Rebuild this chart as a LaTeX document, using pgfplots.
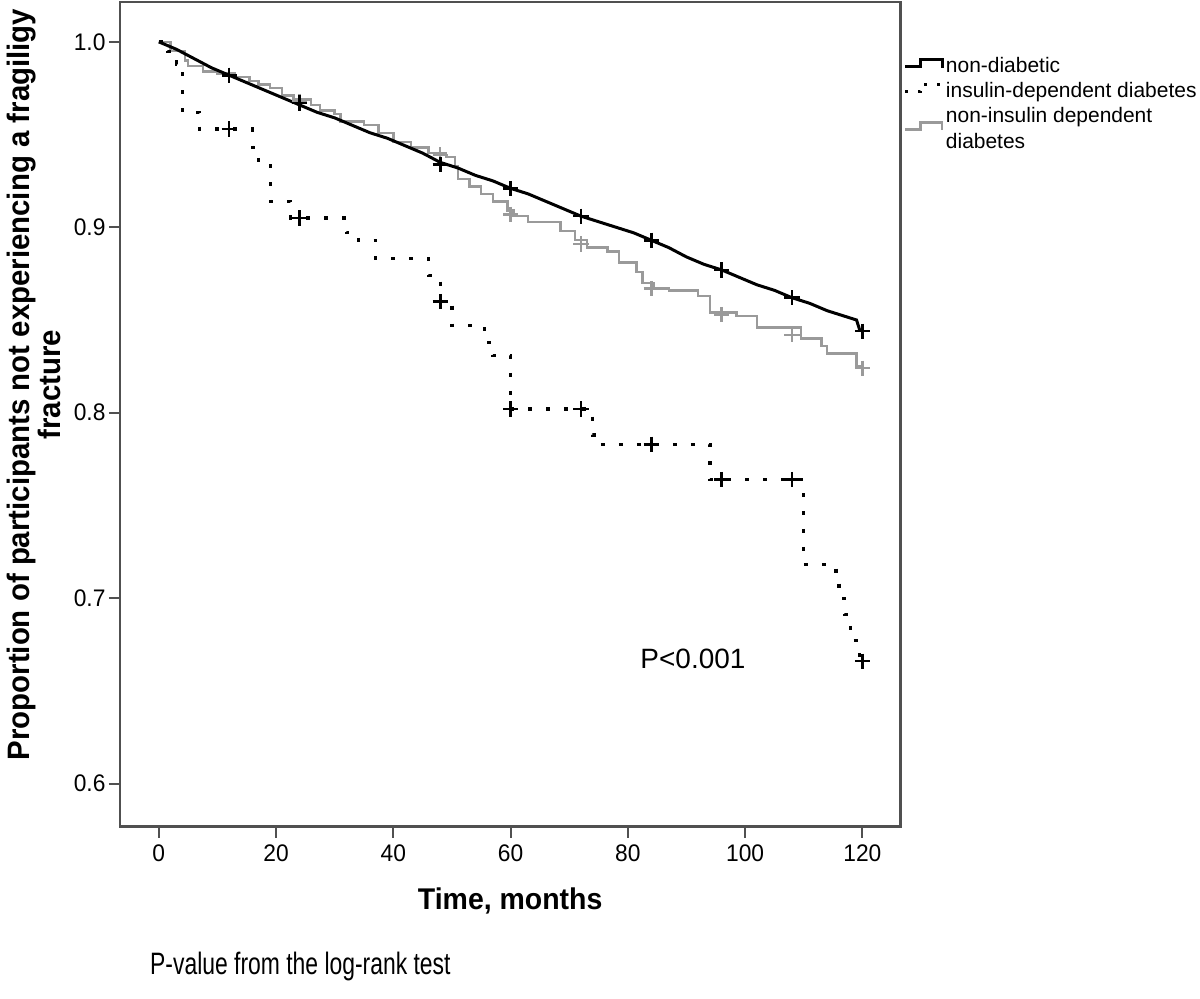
\documentclass[border=0pt]{standalone}
\usepackage{pgfplots}
\pgfplotsset{compat=1.18}
\usepackage{fontspec}
\setmainfont{Liberation Sans}
\newfontfamily\narrowfont[FakeStretch=0.95]{Liberation Sans}
\newfontfamily\notefont[FakeStretch=0.74]{Liberation Sans}
\definecolor{spine}{HTML}{505050}
\definecolor{grayline}{HTML}{9A9A9A}

\pgfplotstableread{
t s
0 1.000
3 0.996
6 0.991
9 0.986
12 0.982
15 0.978
18 0.974
21 0.970
24 0.966
27 0.962
30 0.959
33 0.955
36 0.951
39 0.948
42 0.944
45 0.940
48 0.935
51 0.932
54 0.928
57 0.925
60 0.921
63 0.918
66 0.914
69 0.910
72 0.906
75 0.903
78 0.900
81 0.897
84 0.893
87 0.889
90 0.884
93 0.880
96 0.877
99 0.873
102 0.869
105 0.866
108 0.862
111 0.859
114 0.855
117 0.852
119 0.850
119.5 0.845
120 0.844
}\nondiab

\pgfplotstableread{
t s
0 1.000
2 0.995
4.5 0.990
5 0.987
7.5 0.984
10 0.983
13 0.981
15.5 0.979
17 0.977
19 0.975
21 0.971
23 0.969
26 0.966
27.5 0.963
30 0.961
31 0.957
35 0.955
37.5 0.951
40 0.946
43 0.943
46 0.940
49 0.938
50.5 0.933
51 0.926
53 0.922
55 0.918
57 0.914
59.5 0.909
60.5 0.906
63 0.903
68.5 0.898
71 0.893
73 0.889
76.5 0.887
78.5 0.881
81.5 0.876
82.5 0.870
84.5 0.867
87 0.866
92 0.863
94 0.854
98.5 0.852
102 0.846
109.5 0.840
113 0.836
114 0.832
119 0.825
120 0.824
}\nonins

\pgfplotstableread{
t s
0 1.000
1.5 0.995
3 0.988
4 0.962
7 0.953
16 0.943
17 0.935
19 0.914
22.5 0.905
32 0.897
34 0.893
37 0.883
46 0.874
47.5 0.871
48 0.860
50 0.847
55.5 0.838
57 0.831
60 0.802
74 0.788
75 0.783
94 0.764
110 0.718
115.5 0.710
116 0.700
117 0.691
118 0.677
119.5 0.666
120 0.666
}\insdep

\begin{document}
\begin{tikzpicture}
\begin{axis}[
  scale only axis,
  width=391pt, height=413pt,
  xmin=-6.64, xmax=126.5,
  ymin=0.5768, ymax=1.0215,
  xtick={0,20,40,60,80,100,120},
  ytick={0.6,0.7,0.8,0.9,1.0},
  yticklabel style={inner sep=1.5pt, /pgf/number format/.cd, fixed, fixed zerofill, precision=1},
  /pgf/number format/assume math mode=true,
  ticklabel style={font=\narrowfont\fontsize{12}{14}\selectfont},
  xtick pos=bottom, ytick pos=left,
  tick align=outside,
  major tick length=5.5pt,
  every tick/.style={spine, line width=1pt},
  axis line style={spine, line width=1.2pt},
  xlabel={Time, months},
  xlabel style={at={(axis description cs:0.5,-0.0896)}, anchor=center, font=\narrowfont\bfseries\fontsize{15}{17}\selectfont},
  ylabel={Proportion of participants not experiencing a fragiligy\\fracture},
  ylabel style={at={(axis description cs:-0.1106,0.536)}, anchor=center, align=center, font=\narrowfont\bfseries\fontsize{15.5}{13.5}\selectfont},
  legend style={at={(axis description cs:1.004,0.936)}, anchor=north west, draw=none, fill=none,
    font=\fontsize{10.5}{11}\selectfont, row sep=1pt, inner sep=0pt,
    nodes={inner sep=1.2pt}},
  legend cell align=left,
  legend image code/.code={\draw[#1] (0pt,0pt) -- (7.5pt,0pt) -- (7.5pt,3.5pt) -- (18.5pt,3.5pt) -- (18.5pt,-0.5pt);},
  clip=false,
]
\addlegendimage{black, line width=1.3pt}
\addlegendentry{non-diabetic}
\addlegendimage{black, line width=1.3pt, dash pattern=on 1.5pt off 5pt}
\addlegendentry{insulin-dependent diabetes}
\addlegendimage{grayline, line width=1.2pt}
\addlegendentry{\shortstack[l]{non-insulin dependent\\diabetes}}

\addplot[const plot, grayline, line width=1.2pt, forget plot] table[x=t,y=s] {\nonins};
\addplot[black, line width=1.5pt, forget plot] table[x=t,y=s] {\nondiab};
\addplot[const plot, black, line width=1.6pt, dash pattern=on 2pt off 7pt, forget plot] table[x=t,y=s] {\insdep};

\addplot[only marks, mark=+, mark size=3.8pt, mark options={line width=1.2pt, grayline}, forget plot] coordinates {
(12,0.982) (24,0.968) (48,0.939) (60,0.907) (72,0.891) (84,0.867) (96,0.853) (108,0.842) (120,0.824)};
\addplot[only marks, mark=+, mark size=3.8pt, mark options={line width=1.3pt, black}, forget plot] coordinates {
(12,0.982) (24,0.967) (48,0.934) (60,0.921) (72,0.906) (84,0.893) (96,0.877) (108,0.862) (120,0.844)};
\addplot[only marks, mark=+, mark size=3.8pt, mark options={line width=1.3pt, black}, forget plot] coordinates {
(12,0.953) (24,0.905) (48,0.860) (60,0.802) (72,0.802) (84,0.783) (96,0.764) (108,0.764) (120,0.666)};

\node[font=\fontsize{14}{16}\selectfont] at (axis cs:91.1,0.667) {P<0.001};
\end{axis}
\node[anchor=west, inner sep=0pt, font=\notefont\fontsize{15.5}{17}\selectfont] at ([xshift=15pt,yshift=-70pt]current axis.south west) {P-value from the log-rank test};
\path ([xshift=-59pt,yshift=-86pt]current axis.south west) rectangle ([xshift=150pt,yshift=1pt]current axis.north east);
\end{tikzpicture}
\end{document}
